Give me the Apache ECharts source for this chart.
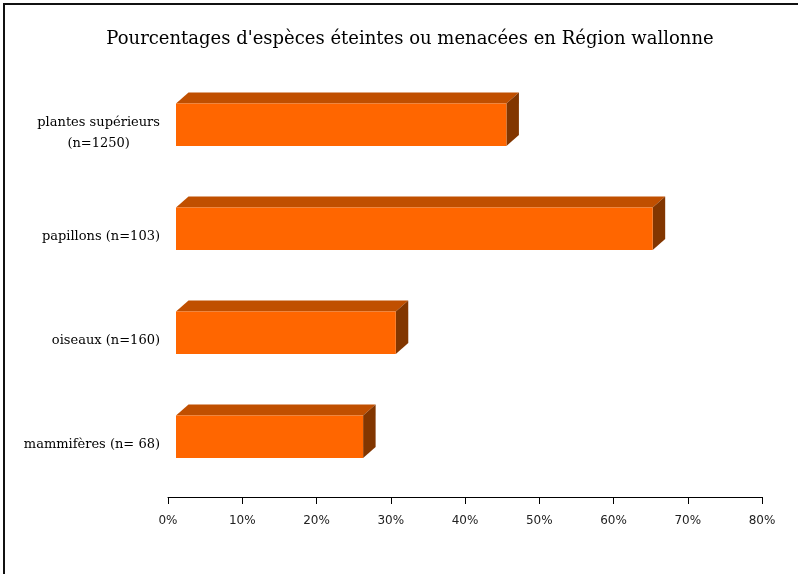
<!DOCTYPE html>
<html>
<head>
<meta charset="utf-8">
<script src="https://cdn.jsdelivr.net/npm/echarts@6/dist/echarts.min.js"></script>
<style>html,body{margin:0;padding:0;background:#fff}#c{width:798px;height:574px}</style>
</head>
<body>
<div id="c"></div>
<script>
var titleText = "Pourcentages d'espèces éteintes ou menacées en Région wallonne";
var categories = ['plantes supérieurs\n(n=1250)', 'papillons (n=103)', 'oiseaux (n=160)', 'mammifères (n= 68)'];
var values = [44.5, 64.2, 29.6, 25.2];
var tickMin = 0, tickMax = 80, tickStep = 10;

var chart = echarts.init(document.getElementById('c'), null, {renderer: 'canvas'});
var DX = 8, DY = -8.3, DEPTH_X = 12.5, DEPTH_Y = -11, BAR_H = 42.5;

chart.setOption({
  animation: false,
  backgroundColor: '#fff',
  title: {
    text: titleText,
    left: 405, top: 25, textAlign: 'center',
    textStyle: {fontFamily: 'DejaVu Serif', fontSize: 18, fontWeight: 'normal', color: '#000'}
  },
  graphic: [{
    type: 'rect', shape: {x: 4, y: 4, width: 900, height: 700},
    style: {fill: 'none', stroke: '#111', lineWidth: 2}, silent: true
  }],
  grid: {left: 168, right: 36, top: 81, bottom: 77},
  xAxis: {
    type: 'value', min: tickMin, max: tickMax, interval: tickStep,
    axisLine: {show: true, lineStyle: {color: '#000', width: 1}},
    axisTick: {show: true, length: 7, lineStyle: {color: '#000'}},
    splitLine: {show: false},
    axisLabel: {
      formatter: function (v) { return v + '%'; },
      fontFamily: 'DejaVu Sans', fontSize: 12, color: '#222', margin: 18
    }
  },
  yAxis: {
    type: 'category', data: categories, inverse: true,
    axisLine: {show: false}, axisTick: {show: false},
    axisLabel: {
      margin: 8, color: '#000', fontFamily: 'DejaVu Serif', fontSize: 13, lineHeight: 21,
      formatter: function (v) {
        return v.split('\n').map(function (s) { return '{c|' + s + '}'; }).join('\n');
      },
      rich: {c: {align: 'center', fontFamily: 'DejaVu Serif', fontSize: 13, lineHeight: 21, color: '#000'}}
    }
  },
  series: [{
    type: 'custom',
    data: values.map(function (v, i) { return [v, i]; }),
    encode: {x: 0, y: 1},
    renderItem: function (params, api) {
      var v = api.value(0), i = api.value(1);
      var p0 = api.coord([0, i]), p1 = api.coord([v, i]);
      var x0 = p0[0] + DX, x1 = p1[0] + DX;
      var cy = p0[1] + DY;
      var yt = cy - BAR_H / 2, yb = cy + BAR_H / 2;
      return {
        type: 'group',
        children: [
          {type: 'polygon', shape: {points: [[x0, yt], [x1, yt], [x1 + DEPTH_X, yt + DEPTH_Y], [x0 + DEPTH_X, yt + DEPTH_Y]]},
            style: {fill: '#C04F00'}},
          {type: 'polygon', shape: {points: [[x1, yt], [x1 + DEPTH_X, yt + DEPTH_Y], [x1 + DEPTH_X, yb + DEPTH_Y], [x1, yb]]},
            style: {fill: '#823600'}},
          {type: 'rect', shape: {x: x0, y: yt, width: x1 - x0, height: BAR_H},
            style: {fill: '#FF6600'}}
        ]
      };
    }
  }]
});
</script>
</body>
</html>
